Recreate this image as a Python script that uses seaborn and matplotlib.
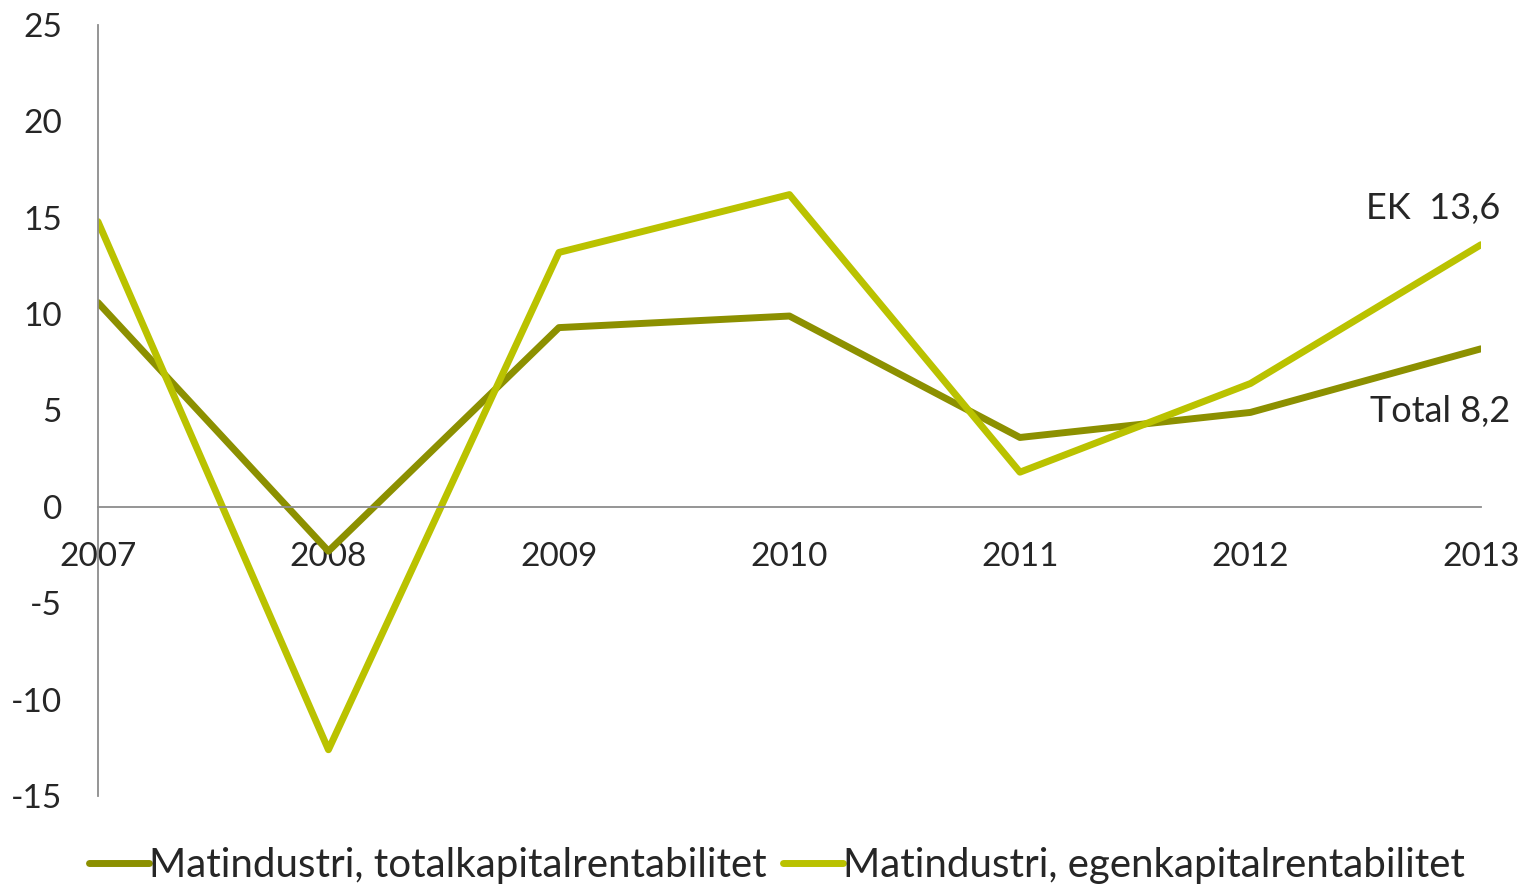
import pandas as pd
import matplotlib.pyplot as plt
import seaborn as sns

years = [2007, 2008, 2009, 2010, 2011, 2012, 2013]
total = [10.6, -2.3, 9.3, 9.9, 3.6, 4.9, 8.2]
ek = [14.8, -12.6, 13.2, 16.2, 1.8, 6.4, 13.6]
series_names = ["Matindustri, totalkapitalrentabilitet",
                "Matindustri, egenkapitalrentabilitet"]
colors = ["#8c9000", "#bac200"]

df = pd.DataFrame({
    "year": years * 2,
    "value": total + ek,
    "serie": [series_names[0]] * len(years) + [series_names[1]] * len(years),
})

sns.set_style("white")
plt.rcParams['font.family'] = ['Lato', 'DejaVu Sans']
plt.rcParams['axes.unicode_minus'] = False

fig = plt.figure(figsize=(15.28, 8.86), dpi=100)
ax = fig.add_axes([0.0641, 0.1016, 0.9051, 0.8702])

sns.lineplot(data=df, x="year", y="value", hue="serie", palette=colors,
             linewidth=5, ax=ax, legend=True)

ax.set_xlim(2007, 2013)
ax.set_ylim(-15, 25)
ax.set_yticks(range(-15, 26, 5))
ax.set_xticks(years)
ax.set_xlabel("")
ax.set_ylabel("")

for s in ["top", "right"]:
    ax.spines[s].set_visible(False)
ax.spines["bottom"].set_position(("data", 0))
ax.spines["bottom"].set_color("#8c8c8c")
ax.spines["left"].set_color("#8c8c8c")
ax.spines["bottom"].set_linewidth(1.3)
ax.spines["left"].set_linewidth(1.3)
ax.tick_params(axis="x", length=0, pad=25, labelsize=24)
ax.tick_params(axis="y", length=0, pad=26, labelsize=24)
for lab in ax.get_xticklabels():
    lab.set_zorder(5)

ax.annotate("EK  13,6", xy=(2013, ek[-1]), xytext=(14, 14), textcoords="offset points",
            ha="right", va="bottom", fontsize=26)
ax.annotate("Total 8,2", xy=(2013, total[-1]), xytext=(21, -33), textcoords="offset points",
            ha="right", va="top", fontsize=26)

ax.legend(loc="upper center", bbox_to_anchor=(0.491, -0.045), ncol=2, frameon=False,
          fontsize=29, handlelength=1.5, handletextpad=0.0, columnspacing=0.4,
          borderaxespad=0)

fig.savefig("out.png", dpi=100)
